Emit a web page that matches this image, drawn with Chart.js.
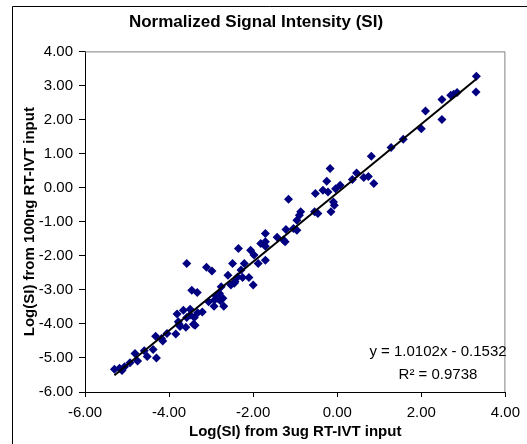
<!DOCTYPE html>
<html>
<head>
<meta charset="utf-8">
<script src="https://cdn.jsdelivr.net/npm/chart.js@4.4.1/dist/chart.umd.min.js"></script>
<style>
  html, body { margin: 0; padding: 0; background: #fff; }
  #wrap { width: 527px; height: 444px; }
</style>
</head>
<body>
<div id="wrap"><canvas id="scatter" width="527" height="444"></canvas></div>
<script>
// values
var xVals = [3.31, 3.30, 2.85, 2.77, 2.70, 2.49, 2.49, 2.10, 2.00, 1.57,
    1.28, 0.81, 0.74, 0.63, 0.87, 0.36, 0.46, -0.17, -0.25, -0.34,
    -0.22, -0.04, 0.07, -0.52, -1.16, -0.09, -0.07, -0.15, -0.46, -0.54,
    -0.87, -0.90, -0.96, -1.04, -0.96, -1.22, -1.28, -1.24, -1.43, -1.71,
    -1.71, -1.82, -1.71, -1.71, -1.88, -1.98, -2.06, -2.21, -2.35, -2.29,
    -2.10, -2.00, -2.25, -2.49, -2.60, -2.37, -2.45, -2.53, -2.43, -2.76,
    -2.80, -2.84, -2.72, -2.92, -2.70, -2.93, -3.11, -2.98, -3.58, -3.46,
    -3.33, -3.06, -3.21, -3.32, -3.50, -3.66, -3.81, -3.58, -3.40, -3.78,
    -3.74, -3.60, -3.42, -3.38, -3.84, -4.05, -4.32, -4.18, -2.88, -2.78,
    -4.38, -4.30, -5.30, -5.12, -5.06, -4.93, -4.81, -4.75, -4.59, -4.52,
    -3.76, -3.50, -5.18, -4.15];
var yVals = [3.27, 2.81, 2.79, 2.74, 2.71, 2.59, 2.00, 2.25, 1.73, 1.42,
    1.18, 0.92, 0.33, 0.30, 0.12, 0.24, 0.43, 0.56, 0.19, -0.08,
    -0.13, -0.03, 0.07, -0.17, -0.34, -0.42, -0.52, -0.71, -0.76, -0.71,
    -0.71, -0.81, -0.96, -1.20, -1.25, -1.23, -1.54, -1.59, -1.46, -1.35,
    -1.59, -1.64, -1.72, -2.13, -2.23, -1.98, -1.84, -2.23, -1.79, -2.42,
    -2.64, -2.86, -2.64, -2.23, -2.57, -2.62, -2.81, -2.86, -2.76, -2.91,
    -3.11, -3.25, -3.25, -3.30, -3.48, -3.48, -2.34, -2.45, -2.23, -3.01,
    -3.08, -3.35, -3.65, -3.67, -3.57, -3.60, -3.71, -3.81, -3.81, -3.94,
    -4.08, -4.10, -4.01, -4.04, -4.30, -4.28, -4.36, -4.43, -3.18, -3.32,
    -4.75, -5.00, -5.33, -5.37, -5.26, -5.14, -4.87, -5.09, -4.79, -4.96,
    -4.01, -3.74, -5.30, -4.50];

var slope = 1.0102;
var intercept = -0.1532;
var rSquared = 0.9738;

var xMin = -6, xMax = 4, xStep = 2;
var yMin = -6, yMax = 4, yStep = 1;

var points = xVals.map(function (x, i) { return { x: x, y: yVals[i] }; });
var lo = Math.min.apply(null, xVals), hi = Math.max.apply(null, xVals);
var trend = [lo, hi].map(function (x) { return { x: x, y: slope * x + intercept }; });

var FONT = "'Liberation Sans', Arial, sans-serif";

// frame, gray plot border and trendline label
var extras = {
    id: 'extras',
    beforeDraw: function (chart) {
        var c = chart.ctx;
        c.save();
        c.strokeStyle = '#000';
        c.lineWidth = 1;
        c.beginPath();
        c.moveTo(12.5, 444);
        c.lineTo(12.5, 6.5);
        c.lineTo(527, 6.5);
        c.stroke();
        c.restore();
    },
    beforeDatasetsDraw: function (chart) {
        var a = chart.chartArea, c = chart.ctx;
        c.save();
        c.strokeStyle = '#808080';
        c.lineWidth = 1;
        c.beginPath();
        c.moveTo(a.left, a.top + 0.5);
        c.lineTo(a.right - 0.5, a.top + 0.5);
        c.lineTo(a.right - 0.5, a.bottom);
        c.stroke();
        c.restore();
    },
    afterDraw: function (chart) {
        var c = chart.ctx;
        c.save();
        c.fillStyle = '#000';
        c.font = '15px ' + FONT;
        c.textAlign = 'center';
        c.textBaseline = 'middle';
        var sign = intercept < 0 ? ' - ' : ' + ';
        c.fillText('y = ' + slope.toFixed(4) + 'x' + sign + Math.abs(intercept).toFixed(4), 438, 352);
        c.fillText('R\u00B2 = ' + rSquared.toFixed(4), 438, 375);
        c.restore();
    }
};

var ctx = document.getElementById('scatter').getContext('2d');
var myChart = new Chart(ctx, {
    type: 'scatter',
    data: {
        datasets: [{
            label: 'Trend',
            type: 'line',
            data: trend,
            borderColor: '#000',
            borderWidth: 2,
            pointRadius: 0,
            fill: false,
            order: 0
        }, {
            label: 'SI',
            data: points,
            pointStyle: 'rectRot',
            pointRadius: 4.5,
            backgroundColor: '#000080',
            borderColor: '#000080',
            borderWidth: 0,
            order: 1
        }]
    },
    options: {
        responsive: false,
        animation: false,
        layout: { padding: { top: 0, left: 0, right: 15, bottom: 0 } },
        plugins: {
            legend: { display: false },
            tooltip: { enabled: false },
            title: {
                display: true,
                text: 'Normalized Signal Intensity (SI)',
                color: '#000',
                font: { family: FONT, size: 17, weight: 'bold' },
                padding: { top: 12, bottom: 19 }
            }
        },
        scales: {
            x: {
                type: 'linear',
                min: xMin, max: xMax,
                afterFit: function (s) { s.height = 52; },
                ticks: {
                    stepSize: xStep,
                    color: '#000',
                    padding: 7,
                    maxRotation: 0,
                    font: { family: FONT, size: 15 },
                    callback: function (v) { return v.toFixed(2); }
                },
                grid: { drawOnChartArea: false, drawTicks: true, tickLength: 5, color: '#000' },
                border: { display: true, color: '#000', width: 1 },
                title: {
                    display: true,
                    text: 'Log(SI) from 3ug RT-IVT input',
                    color: '#000',
                    font: { family: FONT, size: 15, weight: 'bold' },
                    padding: { top: 0, bottom: 3 }
                }
            },
            y: {
                type: 'linear',
                min: yMin, max: yMax,
                afterFit: function (s) { s.width = 85; },
                ticks: {
                    stepSize: yStep,
                    color: '#000',
                    padding: 6,
                    font: { family: FONT, size: 15 },
                    callback: function (v) { return v.toFixed(2); }
                },
                grid: { drawOnChartArea: false, drawTicks: true, tickLength: 6, color: '#000' },
                border: { display: true, color: '#000', width: 1 },
                title: {
                    display: true,
                    text: 'Log(SI) from 100ng RT-IVT input',
                    color: '#000',
                    font: { family: FONT, size: 15, weight: 'bold' },
                    padding: { top: 21, bottom: 0 }
                }
            }
        }
    },
    plugins: [extras]
});
</script>
</body>
</html>
